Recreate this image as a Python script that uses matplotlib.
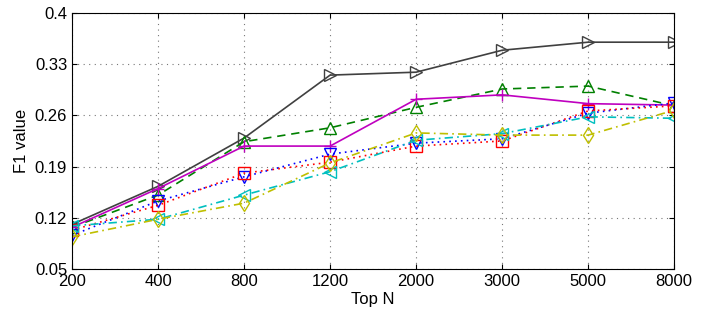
import matplotlib
matplotlib.use("Agg")
import matplotlib.pyplot as plt

plt.rcParams["font.family"] = ["Liberation Sans", "DejaVu Sans"]

top_n = ["200", "400", "800", "1200", "2000", "3000", "5000", "8000"]

# F1 values, one list per method
gray_vals = [0.111, 0.163, 0.229, 0.315, 0.319, 0.349, 0.360, 0.360]
green_vals = [0.107, 0.151, 0.224, 0.243, 0.271, 0.296, 0.300, 0.273]
magenta_vals = [0.107, 0.160, 0.218, 0.218, 0.282, 0.288, 0.276, 0.274]
blue_vals = [0.096, 0.143, 0.176, 0.207, 0.222, 0.228, 0.263, 0.277]
red_vals = [0.103, 0.137, 0.181, 0.196, 0.218, 0.225, 0.266, 0.273]
cyan_vals = [0.109, 0.118, 0.151, 0.183, 0.226, 0.235, 0.258, 0.256]
yellow_vals = [0.094, 0.118, 0.140, 0.195, 0.236, 0.233, 0.233, 0.267]

y_ticks = [0.05, 0.12, 0.19, 0.26, 0.33, 0.4]
y_labels = ["0.05", "0.12", "0.19", "0.26", "0.33", "0.4"]

dash = (0, (5, 3.5))
dot = (0, (1, 2.5))
dashdot = (0, (5, 2.5, 1, 2.5))

fig = plt.figure(figsize=(7.06, 3.15), dpi=100)
ax = fig.add_axes([0.102, 0.146, 0.853, 0.813])
x = list(range(len(top_n)))

ax.plot(x, gray_vals, "-", color="#404040", marker=">", ms=9, mfc="none", lw=1.2)
ax.plot(x, green_vals, ls=dash, color="#008000", marker="^", ms=9, mfc="none", lw=1.2)
ax.plot(x, magenta_vals, "-", color="#bf00bf", marker="+", ms=9, lw=1.2)
ax.plot(x, blue_vals, ls=dot, color="#0000ff", marker="v", ms=9, mfc="none", lw=1.2)
ax.plot(x, red_vals, ls=dot, color="#ff0000", marker="s", ms=8, mfc="none", lw=1.2)
ax.plot(x, cyan_vals, ls=dashdot, color="#00bfbf", marker="<", ms=9, mfc="none", lw=1.2)
ax.plot(x, yellow_vals, ls=dashdot, color="#bfbf00", marker="d", ms=8, mfc="none", lw=1.2)

ax.set_xlim(0, len(top_n) - 1)
ax.set_ylim(0.05, 0.4)
ax.set_xticks(x)
ax.set_xticklabels(top_n)
ax.set_yticks(y_ticks)
ax.set_yticklabels(y_labels)
ax.tick_params(direction="in", labelsize=12, top=True, right=True)
ax.grid(True, linestyle=(0, (1, 4)), color="#777777", lw=0.8)
ax.set_xlabel("Top N", fontsize=12, labelpad=2)
ax.set_ylabel("F1 value", fontsize=12)

fig.savefig("out.png", dpi=100)
